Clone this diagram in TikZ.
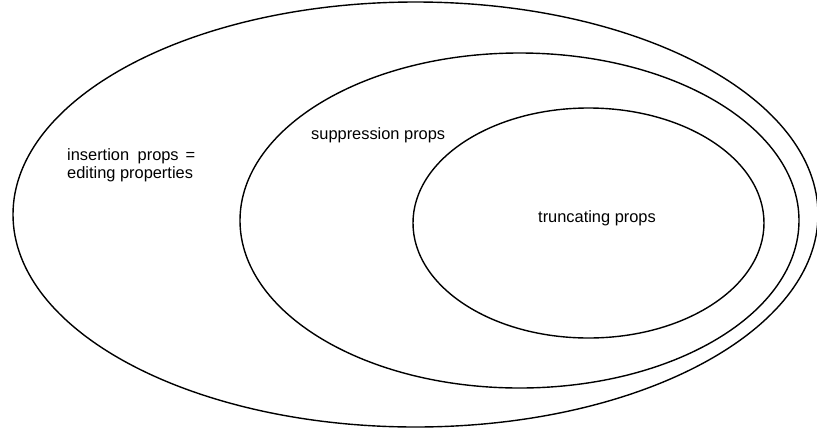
\documentclass[tikz,border=0pt]{standalone}
\usepackage{fontspec}
\setmainfont{Liberation Sans}
\usetikzlibrary{shapes.geometric}
\begin{document}
\begin{tikzpicture}[x=1pt,y=-1pt,
  setbox/.style={ellipse, draw=black, line width=1.4pt, inner sep=0pt},
  setlabel/.style={anchor=base west, inner sep=0pt, font=\fontsize{16.4}{18}\selectfont}]
  \useasboundingbox (0,0) rectangle (817,432);
  \clip (0,0) rectangle (817,432);
  \fill[white] (0,0) rectangle (817,432);
  % nested property sets
  \node[setbox, minimum width=805pt, minimum height=425pt] (outer) at (415.5,214.5) {};
  \node[setbox, minimum width=559pt, minimum height=335pt] (middle) at (519.5,220.5) {};
  \node[setbox, minimum width=351pt, minimum height=230pt] (inner) at (588.5,223) {};
  % set labels
  \node[setlabel] (lblouter) at (67,160) {insertion\hspace{8.5pt}props\hspace{7pt}=};
  \node[setlabel] (lblouter2) at (67,178) {editing properties};
  \node[setlabel] (lblmiddle) at (311,139) {suppression props};
  \node[setlabel] (lblinner) at (538,222) {truncating props};
\end{tikzpicture}
\end{document}
